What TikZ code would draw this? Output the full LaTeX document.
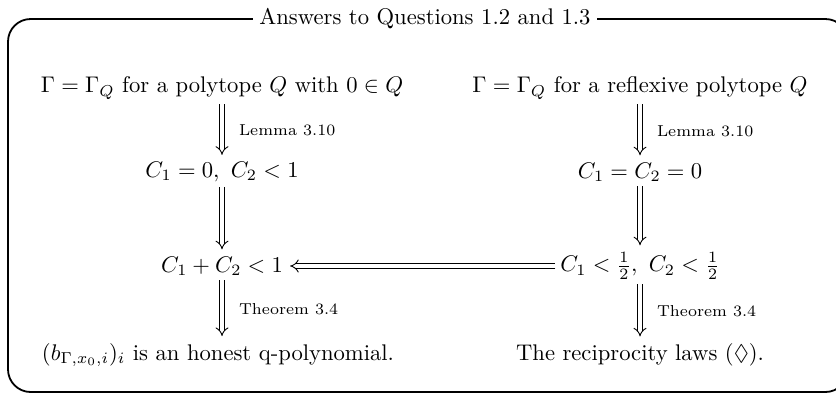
\documentclass[tikz,border=0pt]{standalone}
\usepackage{amsmath,amssymb}
\usetikzlibrary{arrows.meta,positioning}

\begin{document}
\begin{tikzpicture}[
    x=0.442pt, y=-0.442pt,
    stmt/.style={inner sep=2pt},
    impl/.style={double, double distance=1.6pt, -{Implies[length=4pt, width=9pt]}, shorten >=1pt},
    why/.style={right=4pt, font=\scriptsize, midway},
    frame/.style={draw, thick, rounded corners=10pt}
]
    \useasboundingbox (0,0) rectangle (836,394);
    % Frame with title
    \draw[frame] (8,19) rectangle (848,392);
    \node[fill=white, inner xsep=3pt] (title) at (425,19) {Answers to Questions 1.2 and 1.3};

    % Left column
    \node[stmt] (polyQ) at (222,88) {$\Gamma=\Gamma_Q$ for a polytope $Q$ with $0\in Q$};
    \node[stmt] (czero) at (222,172) {$C_1=0,\ C_2<1$};
    \node[stmt] (csum) at (222,266) {$C_1+C_2<1$};
    \node[stmt] (honest) at (218,355) {$(b_{\Gamma,x_0,i})_i$ is an honest q-polynomial.};

    % Right column
    \node[stmt] (reflQ) at (640,88) {$\Gamma=\Gamma_Q$ for a reflexive polytope $Q$};
    \node[stmt] (cboth) at (640,172) {$C_1=C_2=0$};
    \node[stmt] (chalf) at (640,266) {$C_1<\frac{1}{2},\ C_2<\frac{1}{2}$};
    \node[stmt] (recip) at (640,355) {The reciprocity laws $(\Diamond)$.};

    % Implications
    \draw[impl] (polyQ) -- node[why] {Lemma 3.10} (czero);
    \draw[impl] (czero) -- (csum);
    \draw[impl] (csum) -- node[why] {Theorem 3.4} (csum |- honest.north);
    \draw[impl] (reflQ) -- node[why] {Lemma 3.10} (cboth);
    \draw[impl] (cboth) -- (chalf);
    \draw[impl] (chalf) -- node[why] {Theorem 3.4} (recip);
    \draw[impl] (chalf) -- (csum);
\end{tikzpicture}
\end{document}
